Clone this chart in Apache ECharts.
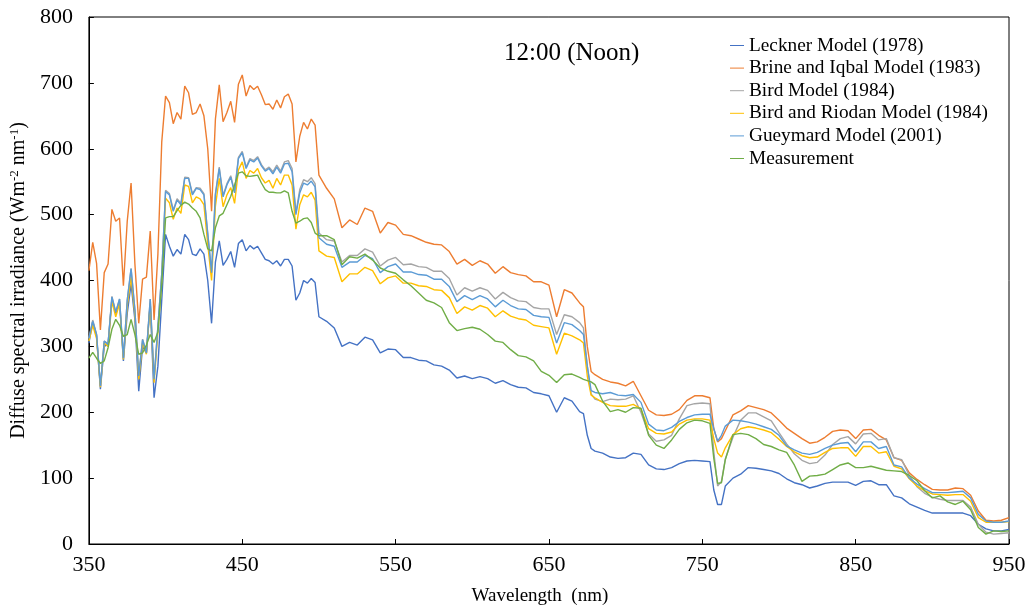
<!DOCTYPE html>
<html>
<head>
<meta charset="utf-8">
<title>Diffuse spectral irradiance, 12:00 (Noon)</title>
<script src="https://cdn.jsdelivr.net/npm/echarts@6/dist/echarts.min.js"></script>
<style>
  html, body { margin: 0; padding: 0; background: #fff; }
  #chart { width: 1032px; height: 611px; }
</style>
</head>
<body>
<div id="chart"></div>
<script>
// Wavelength grid (nm): finer steps where the spectra vary quickly
const wavelengths = [
  350,352.5,355,357.5,360,362.5,365,367.5,370,372.5,375,377.5,380,382.5,385,387.5,390,392.5,395,397.5,
  400,402.5,405,407.5,410,412.5,415,417.5,420,422.5,425,427.5,430,432.5,435,437.5,440,442.5,445,447.5,
  450,452.5,455,457.5,460,462.5,465,467.5,470,472.5,475,477.5,480,482.5,485,487.5,490,492.5,495,497.5,
  500,
  505,510,515,520,525,530,535,540,545,550,555,560,565,570,575,580,585,590,595,600,
  605,610,615,620,625,630,635,640,645,650,655,660,665,670,
  672.5,675,677.5,680,
  685,690,695,700,705,710,715,720,725,730,735,740,745,750,755,
  757.5,760,762.5,765,
  770,775,780,785,790,795,800,805,810,815,820,825,830,835,840,845,850,855,860,865,
  870,875,880,885,890,895,900,905,910,915,920,925,930,935,940,945,950
];

// Diffuse spectral irradiance (W m-2 nm-1) for each model and the measurement
const leckner = [
  305,338,316,235,300,303,372,350,368,278, 350,395,340,232,300,290,365,222,270,370,
  470,452,437,447,440,470,462,440,438,448, 440,400,335,428,460,423,432,444,420,456,
  462,445,453,448,452,442,432,430,425,430, 422,432,432,422,370,381,400,396,403,397,
  345,
  338,328,300,306,302,314,310,290,296,295, 283,283,279,278,272,270,264,252,255,251,
  254,251,244,248,242,238,237,230,228,225, 200,222,217,201,
  198,165,145,141,
  138,132,130,131,138,136,120,114,113,116,122,126,127,126,125,
  82,60,60,88,
  100,106,116,115,113,111,107,99,93,90, 85,88,92,94,94,94,89,95,96,90,
  90,73,70,61,56,51,47,47,47,47, 47,43,30,23,20,20,22
];

const brineIqbal = [
  415,458,426,325,412,425,508,490,495,392, 490,548,425,335,402,405,475,340,440,610,
  680,670,638,655,645,695,685,652,655,668, 650,600,505,645,697,641,655,672,640,698,
  712,680,696,690,695,682,667,668,660,674, 662,679,683,668,580,619,640,630,645,636,
  560,
  540,524,480,492,485,510,505,472,488,484, 470,468,463,458,455,454,444,425,432,423,
  430,425,411,421,412,409,407,398,398,393, 345,386,381,366,
  360,300,262,257,
  250,246,244,240,247,225,203,196,195,197,204,218,225,225,222,
  175,155,160,172,
  196,202,210,207,204,199,188,176,168,160, 153,155,162,171,173,172,160,173,174,165,
  158,131,127,108,98,90,83,82,82,85, 84,74,50,36,35,36,40
];

const bird = [
  312,340,318,240,308,304,376,352,372,283, 370,418,355,255,311,291,372,250,331,410,
  537,532,507,524,517,557,556,532,541,540, 532,472,414,532,572,529,547,559,535,587,
  596,572,585,582,588,576,568,572,565,575, 566,580,582,570,503,538,553,550,556,547,
  472,
  462,460,428,438,438,448,443,422,431,435, 424,425,421,420,414,414,403,378,389,384,
  389,385,372,382,374,369,368,359,357,357, 318,348,345,336,
  328,270,228,220,
  216,220,219,220,225,200,167,156,158,165,190,210,213,214,213,
  140,88,95,129,
  162,188,199,199,193,187,169,152,137,127, 122,124,135,151,160,163,152,167,168,158,
  160,131,128,104,87,77,71,68,66,66, 66,56,30,18,15,16,17
];

const birdRiordan = [
  308,332,312,238,305,300,368,345,365,280, 362,405,348,250,305,288,365,245,322,400,
  525,518,493,510,502,545,543,518,527,524, 515,455,400,513,555,512,530,541,517,568,
  580,555,567,563,570,556,548,552,540,555, 545,560,560,545,478,515,530,527,534,522,
  445,
  437,435,398,410,410,420,415,395,404,407, 396,396,392,391,386,385,374,350,360,355,
  362,358,345,354,346,342,340,332,330,328, 288,320,316,310,
  305,255,226,222,
  215,210,209,209,212,205,175,168,167,170,182,188,190,190,188,
  160,138,132,146,
  166,175,178,176,173,169,159,148,140,134, 131,132,139,145,146,146,133,148,148,138,
  140,118,114,99,88,81,76,75,74,75, 75,65,40,33,33,33,34
];

const gueymard = [
  312,338,318,240,308,303,375,352,372,282, 370,418,355,255,310,290,372,250,330,410,
  535,530,505,522,515,555,555,530,540,538, 530,470,412,530,570,527,545,557,533,585,
  594,570,583,580,586,574,566,570,562,572, 563,577,578,565,500,533,548,545,551,542,
  465,
  455,452,420,428,428,438,433,412,421,425, 413,413,409,408,402,402,391,368,377,371,
  377,372,360,370,362,357,356,347,345,344, 305,336,333,324,
  318,270,233,230,
  228,230,226,225,227,215,182,173,172,177,186,192,196,197,197,
  175,156,165,179,
  188,187,185,182,178,174,165,149,143,138, 136,139,145,150,153,154,140,155,155,145,
  148,120,117,100,91,84,78,78,78,79, 80,70,45,35,33,33,35
];

const measurement = [
  282,291,282,274,278,298,326,341,332,315, 318,341,318,288,290,302,318,306,322,395,
  495,497,497,506,514,519,516,510,505,495, 470,448,445,480,498,502,515,528,545,563,
  565,559,558,559,560,548,538,534,534,533, 533,536,533,505,487,490,494,495,488,472,
  468,
  468,462,424,436,434,440,431,419,414,411, 401,392,381,370,366,359,336,324,327,329,
  326,318,308,306,295,286,284,278,262,256, 245,257,258,253,
  250,248,246,242,
  217,201,204,200,207,206,165,150,145,158,174,184,188,187,183,
  130,92,93,128,
  166,168,166,160,151,148,143,139,120,95, 103,104,106,113,120,123,116,116,118,115,
  112,111,110,104,96,81,70,73,64,60, 65,52,25,15,20,19,20
];

const seriesNames = [
  'Leckner Model (1978)',
  'Brine and Iqbal Model (1983)',
  'Bird Model (1984)',
  'Bird and Riodan Model (1984)',
  'Gueymard Model (2001)',
  'Measurement'
];
const seriesValues = [leckner, brineIqbal, bird, birdRiordan, gueymard, measurement];
const seriesColors = ['#4472C4', '#ED7D31', '#A5A5A5', '#FFC000', '#5B9BD5', '#70AD47'];

const xTicks = [350, 450, 550, 650, 750, 850, 950];

const serif = "'Liberation Serif', 'Times New Roman', serif";

const chart = echarts.init(document.getElementById('chart'), null, { renderer: 'canvas' });

chart.setOption({
  animation: false,
  backgroundColor: '#ffffff',
  textStyle: { fontFamily: serif, color: '#000' },
  title: {
    text: '12:00 (Noon)',
    left: 499,
    top: 36,
    textStyle: { fontFamily: serif, fontSize: 25, fontWeight: 'normal', color: '#000' }
  },
  legend: {
    orient: 'vertical',
    left: 725,
    top: 31,
    itemWidth: 14,
    itemHeight: 19,
    itemGap: 3.6,
    data: seriesNames.map(n => ({ name: n, icon: 'path://M0,10 L14,10 L14,11 L0,11 Z' })),
    textStyle: { fontFamily: serif, fontSize: 19.3, color: '#000' }
  },
  grid: {
    left: 88, right: 23, top: 17, bottom: 66,
    show: true, borderColor: '#000', borderWidth: 1, backgroundColor: 'transparent'
  },
  xAxis: {
    type: 'value',
    min: 350, max: 950,
    name: 'Wavelength  (nm)',
    nameLocation: 'middle',
    nameGap: 43,
    nameTextStyle: { fontFamily: serif, fontSize: 19, color: '#000', padding: [0, 18, 0, 0] },
    axisLine: { show: true, lineStyle: { color: '#000', width: 1 } },
    axisTick: { show: true, inside: true, length: 5, customValues: xTicks, lineStyle: { color: '#000' } },
    axisLabel: { customValues: xTicks, margin: 10, fontFamily: serif, fontSize: 22, color: '#000' },
    splitLine: { show: false }
  },
  yAxis: {
    type: 'value',
    min: 0, max: 800, interval: 100,
    name: 'Diffuse spectral irradiance (Wm{s|-2} nm{s|-1})',
    nameLocation: 'middle',
    nameGap: 56,
    nameTextStyle: {
      fontFamily: serif, fontSize: 20, color: '#000',
      rich: {
        s: { fontFamily: serif, fontSize: 13, color: '#000', verticalAlign: 'top', lineHeight: 22 }
      }
    },
    axisLine: { show: true, lineStyle: { color: '#000', width: 1 } },
    axisTick: { show: true, inside: true, length: 5, lineStyle: { color: '#000' } },
    axisLabel: { margin: 16, fontFamily: serif, fontSize: 22, color: '#000' },
    splitLine: { show: false }
  },
  series: seriesNames.map((name, i) => ({
    name: name,
    type: 'line',
    data: wavelengths.map((w, j) => [w, seriesValues[i][j]]),
    showSymbol: false,
    symbol: 'none',
    smooth: false,
    lineStyle: { color: seriesColors[i], width: 1.4 },
    itemStyle: { color: seriesColors[i] },
    z: 2 + i
  }))
});
</script>
</body>
</html>
